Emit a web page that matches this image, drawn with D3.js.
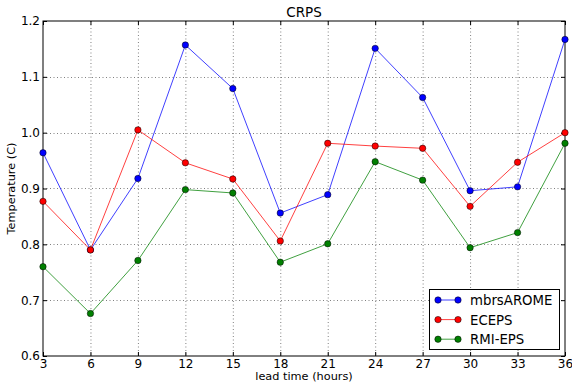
<!DOCTYPE html>
<html lang="en">
<head>
  <meta charset="UTF-8">
  <title>CRPS</title>
  <style>
    body { margin: 0; background: #fff; }
    svg { display: block; font-family: "DejaVu Sans", sans-serif; }
    .grid line { stroke: #808080; stroke-width: 1; stroke-dasharray: 1,2.5; }
  </style>
</head>
<body>
  <svg id="chart" width="572" height="383"></svg>

  <script src="https://d3js.org/d3.v7.min.js"></script>
  <script>
    // lead times (hours)
    const leadTimes = [3, 6, 9, 12, 15, 18, 21, 24, 27, 30, 33, 36];

    const mbrsAROME = [0.964, 0.790, 0.918, 1.157, 1.079, 0.856, 0.889, 1.151, 1.063, 0.896, 0.903, 1.167];
    const ECEPS     = [0.877, 0.790, 1.005, 0.946, 0.917, 0.806, 0.981, 0.976, 0.972, 0.868, 0.947, 1.000];
    const RMIEPS    = [0.760, 0.676, 0.771, 0.898, 0.892, 0.768, 0.801, 0.948, 0.915, 0.794, 0.821, 0.981];

    const yTicks = [0.6, 0.7, 0.8, 0.9, 1.0, 1.1, 1.2];

    const seriesNames = ["mbrsAROME", "ECEPS", "RMI-EPS"];
    const seriesColors = ["#0000ff", "#ff0000", "#008000"];
    const seriesValues = [mbrsAROME, ECEPS, RMIEPS];

    const margin = {top: 21, right: 7, bottom: 27, left: 43};
    const width = 572, height = 383;
    const tickFont = 12;

    const svg = d3.select("#chart");

    const x = d3.scaleLinear()
                .domain([3, 36])
                .range([margin.left, width - margin.right]);
    const y = d3.scaleLinear()
                .domain([0.6, 1.2])
                .range([height - margin.bottom, margin.top]);

    // dotted grid
    const grid = svg.append("g").attr("class", "grid");
    grid.selectAll(".gx")
        .data(leadTimes.slice(1, -1))
        .enter().append("line")
        .attr("x1", d => x(d) + 0.5).attr("x2", d => x(d) + 0.5)
        .attr("y1", y(1.2)).attr("y2", y(0.6));
    grid.selectAll(".gy")
        .data(yTicks.slice(1, -1))
        .enter().append("line")
        .attr("y1", d => Math.round(y(d)) + 0.5).attr("y2", d => Math.round(y(d)) + 0.5)
        .attr("x1", x(3)).attr("x2", x(36));

    // axes with inward ticks (top/right mirrored)
    const bottomAxis = svg.append("g")
        .attr("transform", `translate(0,${y(0.6)})`)
        .call(d3.axisBottom(x).tickValues(leadTimes).tickSize(-4).tickPadding(3).tickFormat(d3.format("d")));
    const leftAxis = svg.append("g")
        .attr("transform", `translate(${x(3)},0)`)
        .call(d3.axisLeft(y).tickValues(yTicks).tickSize(-4).tickPadding(3).tickFormat(d3.format(".1f")));
    const topAxis = svg.append("g")
        .attr("transform", `translate(0,${y(1.2)})`)
        .call(d3.axisTop(x).tickValues(leadTimes).tickSize(-4).tickFormat(""));
    const rightAxis = svg.append("g")
        .attr("transform", `translate(${x(36)},0)`)
        .call(d3.axisRight(y).tickValues(yTicks).tickSize(-4).tickFormat(""));

    [bottomAxis, leftAxis, topAxis, rightAxis].forEach(a => {
      a.select(".domain").remove();
      a.selectAll(".tick line").attr("stroke", "#000");
      a.selectAll("text")
       .attr("font-family", "DejaVu Sans").attr("font-size", tickFont).attr("fill", "#000");
    });

    // frame
    svg.append("rect")
       .attr("x", x(3)).attr("y", y(1.2))
       .attr("width", x(36) - x(3)).attr("height", y(0.6) - y(1.2))
       .attr("fill", "none").attr("stroke", "#000").attr("stroke-width", 1);

    // series
    const line = d3.line()
                   .x((d, i) => x(leadTimes[i]))
                   .y(d => y(d));

    seriesValues.forEach((vals, s) => {
      svg.append("path")
         .datum(vals)
         .attr("d", line)
         .attr("fill", "none")
         .attr("stroke", seriesColors[s])
         .attr("stroke-opacity", 0.75)
         .attr("stroke-width", 1);
      svg.append("g")
         .selectAll("circle")
         .data(vals)
         .enter().append("circle")
         .attr("cx", (d, i) => x(leadTimes[i]))
         .attr("cy", d => y(d))
         .attr("r", 3.2)
         .attr("fill", seriesColors[s])
         .attr("stroke", "#000")
         .attr("stroke-width", 0.5);
    });

    // title and axis labels
    svg.append("text")
       .attr("x", (x(3) + x(36)) / 2).attr("y", 17)
       .attr("text-anchor", "middle")
       .attr("font-size", 13.5)
       .text("CRPS");
    svg.append("text")
       .attr("x", (x(3) + x(36)) / 2).attr("y", 380)
       .attr("text-anchor", "middle")
       .attr("font-size", 11.3)
       .text("lead time (hours)");
    svg.append("text")
       .attr("transform", `translate(15,${(y(0.6) + y(1.2)) / 2}) rotate(-90)`)
       .attr("text-anchor", "middle")
       .attr("font-size", 11.3)
       .text("Temperature (C)");

    // legend
    const legend = svg.append("g").attr("transform", "translate(429,289)");
    legend.append("rect")
          .attr("x", 0.5).attr("y", 0.5)
          .attr("width", 130).attr("height", 60)
          .attr("fill", "#fff").attr("stroke", "#000").attr("stroke-width", 1);
    seriesNames.forEach((name, i) => {
      const ly = 11 + i * 19.6;
      legend.append("line")
            .attr("x1", 9).attr("x2", 29)
            .attr("y1", ly).attr("y2", ly)
            .attr("stroke", seriesColors[i]).attr("stroke-opacity", 0.75);
      [9, 29].forEach(cx => {
        legend.append("circle")
              .attr("cx", cx).attr("cy", ly).attr("r", 3.2)
              .attr("fill", seriesColors[i])
              .attr("stroke", "#000").attr("stroke-width", 0.5);
      });
      legend.append("text")
            .attr("x", 41).attr("y", ly + 5)
            .attr("font-size", 13.3)
            .text(name);
    });
  </script>
</body>
</html>
